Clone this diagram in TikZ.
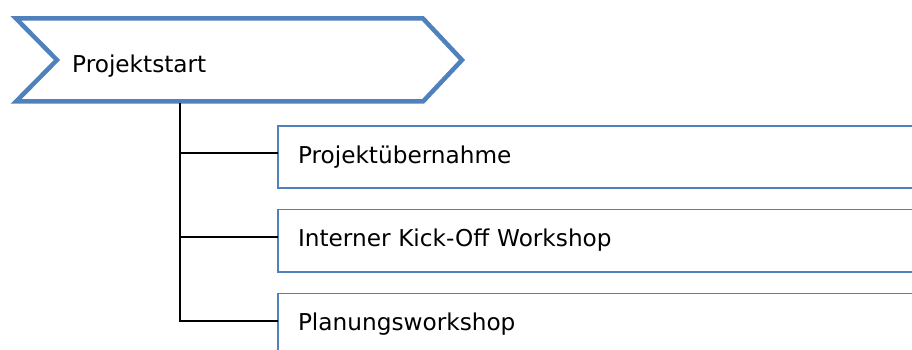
\documentclass[tikz,border=0pt]{standalone}
\usepackage{fontspec}
\setmainfont{DejaVu Sans}
\definecolor{officeblue}{HTML}{4F81BD}
\begin{document}
\begin{tikzpicture}[x=1pt, y=-1pt,
  lbl/.style={font=\fontsize{23.2}{28}\selectfont, text=black},
  phase/.style={draw=officeblue, line width=4.5pt, line join=miter, fill=white},
  task/.style={lbl, draw=officeblue, line width=1.6pt, fill=white,
    outer sep=0pt, inner xsep=20pt, inner ysep=0pt,
    text width=660pt, align=left, text height=17pt, text depth=5pt,
    anchor=west},
  conn/.style={draw=black, line width=1.5pt}]
\useasboundingbox (0,0) rectangle (912,350);
\clip (0,0) rectangle (912,350);

% phase chevron
\draw[phase] (16,18.5) -- (423,18.5) -- (462,60) -- (423,101.5)
  -- (16,101.5) -- (57,60) -- cycle;
\node[lbl, anchor=base west, inner sep=0pt] (start) at (72,73) {Projektstart};
\coordinate (trunk) at (180,103.5);

% task boxes
\node[task, minimum height=62pt]   (t1) at (278,157)    {Projektübernahme};
\node[task, minimum height=62.5pt] (t2) at (278,240.75) {Interner Kick-Off Workshop};
\node[task, minimum height=61pt]   (t3) at (278,324)    {Planungsworkshop};

% connectors from the phase to its tasks
\draw[conn] (trunk) |- ([yshift=4pt]t1.west);
\draw[conn] (trunk) |- ([yshift=3.75pt]t2.west);
\draw[conn] (trunk) |- ([yshift=3pt]t3.west);
\end{tikzpicture}
\end{document}
